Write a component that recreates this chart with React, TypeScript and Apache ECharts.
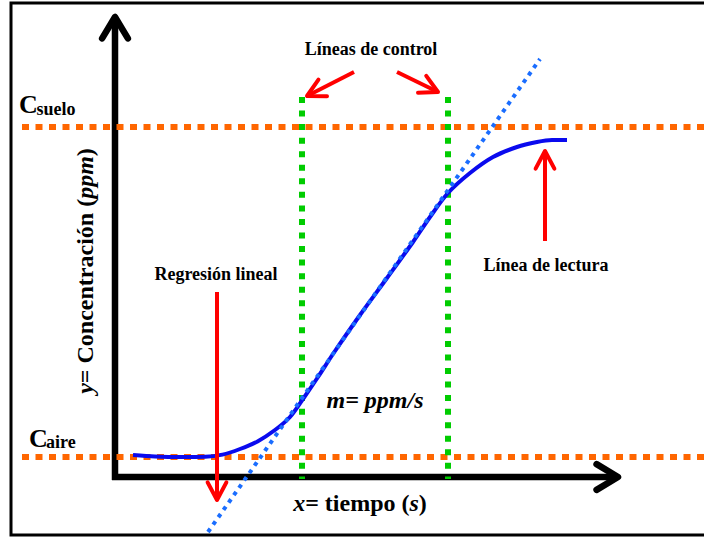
import React, { useEffect, useRef } from "react";
import * as echarts from "echarts";

// Extent of the drawing plane: time in seconds, concentration in ppm
const timeRange = [-23, 117.8];
const ppmRange = [-305, 2385];

// Reference concentration levels (ppm)
const cAire = 100;
const cSuelo = 1750;
const levelStart = -18.6;

// Control window limits (s) and how high the guide lines reach (ppm)
const controlTimes = [37.4, 66.6];
const controlTop = 1900;

// Sensor reading curve
const readingTime = [3.6, 8, 13, 18, 21.5, 25, 28.5, 32, 35, 37.6, 40.6, 43.6, 49, 54.4, 59.6, 63, 66.6, 71, 75.6, 80.4, 84.4, 87.4, 90.4];
const readingPpm = [110, 103, 100, 101, 112, 140, 178, 235, 300, 390, 500, 615, 810, 995, 1175, 1300, 1420, 1520, 1600, 1650, 1675, 1685, 1685];

// Linear regression fitted inside the control window
const regressionTime = [18.6, 85];
const regressionPpm = [-275, 2090];

// Coordinate axes drawn as arrows: [tailTime, tailPpm, tipTime, tipPpm]
const axisArrows = [
  [0, -15, 0, 2300],
  [-0.6, 0, 100.6, 0],
];

// Red call-out arrows: [tailTime, tailPpm, tipTime, tipPpm]
const pointerArrows = [
  [20.4, 925, 20.4, -115],
  [86, 1180, 86, 1630],
  [47.8, 2025, 38.4, 1905],
  [56.4, 2025, 64.6, 1925],
];

const SERIF = "Liberation Serif";

function arrowRenderer(color: string, width: number, headLen: number, headAngle: number) {
  return (_params: any, api: any) => {
    const p0 = api.coord([api.value(0), api.value(1)]);
    const p1 = api.coord([api.value(2), api.value(3)]);
    const ang = Math.atan2(p1[1] - p0[1], p1[0] - p0[0]);
    const a1 = ang + Math.PI - headAngle;
    const a2 = ang + Math.PI + headAngle;
    const h1 = [p1[0] + headLen * Math.cos(a1), p1[1] + headLen * Math.sin(a1)];
    const h2 = [p1[0] + headLen * Math.cos(a2), p1[1] + headLen * Math.sin(a2)];
    return {
      type: "group",
      children: [
        {
          type: "line",
          shape: { x1: p0[0], y1: p0[1], x2: p1[0], y2: p1[1] },
          style: { stroke: color, lineWidth: width, lineCap: "butt" },
        },
        {
          type: "polyline",
          shape: { points: [h1, p1, h2] },
          style: { stroke: color, lineWidth: width, fill: "none", lineJoin: "round", lineCap: "round" },
        },
      ],
    };
  };
}

function boldText(text: string, x: number, y: number, size: number, align: string, extra: any = {}) {
  return {
    type: "text",
    x,
    y,
    z: 100,
    style: {
      text,
      fill: "#000",
      fontFamily: SERIF,
      fontWeight: "bold",
      fontSize: size,
      align,
      verticalAlign: "middle",
      ...extra,
    },
  };
}

export default function App() {
  const ref = useRef<HTMLDivElement>(null);

  useEffect(() => {
    if (!ref.current) return;
    const chart = echarts.init(ref.current, undefined, { renderer: "svg" });

    const reading = readingTime.map((t, i) => [t, readingPpm[i]]);
    const regression = regressionTime.map((t, i) => [t, regressionPpm[i]]);
    const levelLine = (v: number) => [
      [levelStart, v],
      [timeRange[1], v],
    ];

    const richItalic = { fontFamily: SERIF, fontWeight: "bold", fontStyle: "italic", fontSize: 24, fill: "#000" };
    const richNormal = { fontFamily: SERIF, fontWeight: "bold", fontSize: 24, fill: "#000" };

    chart.setOption({
      animation: false,
      backgroundColor: "#fff",
      grid: { left: 0, right: 0, top: 0, bottom: 0 },
      xAxis: { type: "value", min: timeRange[0], max: timeRange[1], show: false },
      yAxis: { type: "value", min: ppmRange[0], max: ppmRange[1], show: false },
      series: [
        {
          type: "custom",
          name: "ejes",
          z: 1,
          silent: true,
          data: axisArrows,
          renderItem: arrowRenderer("#000", 6.5, 25, (31 * Math.PI) / 180),
        },
        ...[cSuelo, cAire].map((v) => ({
          type: "line",
          z: 2,
          silent: true,
          showSymbol: false,
          data: levelLine(v),
          lineStyle: { color: "#ff6600", width: 6, type: [7, 6.5], cap: "butt" },
        })),
        ...controlTimes.map((t) => ({
          type: "line",
          z: 3,
          silent: true,
          showSymbol: false,
          data: [
            [t, controlTop],
            [t, -10],
          ],
          lineStyle: { color: "#00cc00", width: 6, type: [6, 7.55], cap: "butt" },
        })),
        {
          type: "line",
          name: "lectura",
          z: 4,
          silent: true,
          showSymbol: false,
          smooth: 0.3,
          data: reading,
          lineStyle: { color: "#0a0aee", width: 4 },
        },
        {
          type: "line",
          name: "regresión",
          z: 5,
          silent: true,
          showSymbol: false,
          data: regression,
          lineStyle: { color: "#1a6dff", width: 4, type: [4, 5], cap: "butt" },
        },
        {
          type: "custom",
          name: "flechas",
          z: 6,
          silent: true,
          data: pointerArrows,
          renderItem: arrowRenderer("#ff0000", 4, 20, (28 * Math.PI) / 180),
        },
      ],
      graphic: [
        {
          type: "rect",
          z: 100,
          shape: { x: 11, y: 3, width: 720, height: 532 },
          style: { fill: "none", stroke: "#000", lineWidth: 3 },
        },
        boldText("Líneas de control", 371, 49, 18, "center"),
        boldText("Regresión lineal", 216, 274, 18, "center"),
        boldText("Línea de lectura", 546, 265, 18, "center"),
        boldText("C", 19, 104, 26, "left"),
        boldText("suelo", 36.5, 109, 18, "left"),
        boldText("C", 29, 438, 26, "left"),
        boldText("aire", 46, 442, 18, "left"),
        boldText("m= ppm/s", 375, 400, 24, "center", { fontStyle: "italic" }),
        {
          type: "text",
          x: 360,
          y: 503,
          z: 100,
          style: {
            text: "{i|x}{n|= tiempo (}{i|s}{n|)}",
            rich: { i: richItalic, n: richNormal },
            align: "center",
            verticalAlign: "middle",
          },
        },
        {
          type: "text",
          x: 85,
          y: 271,
          z: 100,
          rotation: Math.PI / 2,
          style: {
            text: "{i|y}{n|= Concentración (}{i|ppm}{n|)}",
            rich: { i: richItalic, n: richNormal },
            align: "center",
            verticalAlign: "middle",
          },
        },
      ],
    });

    return () => chart.dispose();
  }, []);

  return (
    <div
      ref={ref}
      style={{ position: "absolute", left: 0, top: 0, width: 704, height: 538, background: "#fff" }}
    />
  );
}
